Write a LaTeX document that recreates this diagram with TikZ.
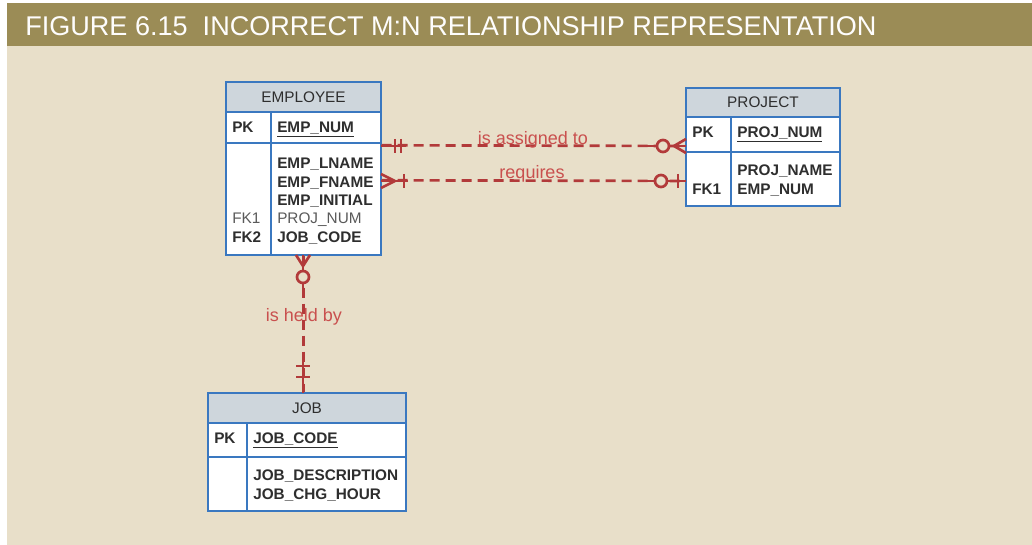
\documentclass[tikz,border=0pt]{standalone}
\usepackage{fontspec}
\setmainfont{Liberation Sans}
\usetikzlibrary{positioning}

\definecolor{titlebar}{HTML}{9B8C56}
\definecolor{paper}{HTML}{E8DFC9}
\definecolor{erblue}{HTML}{3A78C0}
\definecolor{headgray}{HTML}{CED6DC}
\definecolor{relred}{HTML}{B23A3A}
\definecolor{lblred}{HTML}{C9504E}
\definecolor{fieldtxt}{HTML}{2E2E2E}
\definecolor{fktxt}{HTML}{5A5A5A}

\tikzset{
  tablecell/.style={draw=erblue, line width=1.1pt, fill=white, inner sep=0pt},
  tablehead/.style={tablecell, fill=headgray, font=\fontsize{11.5}{13}\selectfont, text=fieldtxt},
  field/.style={anchor=mid west, inner sep=0pt, yshift=-1.5pt, font=\bfseries\fontsize{11.5}{13}\selectfont, text=fieldtxt},
  fkfield/.style={field, font=\fontsize{11.5}{13}\selectfont, text=fktxt},
  rel/.style={draw=relred, line width=2pt, dash pattern=on 7.5pt off 4.5pt},
  relend/.style={draw=relred, line width=2pt},
  rellabel/.style={inner sep=0pt, yshift=-1pt, text=lblred, font=\fontsize{13.5}{15}\selectfont}
}

\begin{document}
\begin{tikzpicture}[x=0.75pt, y=-0.75pt]
  % page and title band
  \useasboundingbox[fill=white] (0,0) rectangle (1032,545);
  \fill[paper] (7,46) rectangle (1032,545);
  \fill[titlebar] (7,3) rectangle (1032,46);
  \node[anchor=base west, inner sep=0pt, text=white!95!paper, font=\fontsize{20.3}{24}\selectfont] (title) at (25,36)
    {FIGURE 6.15\ \ INCORRECT M:N RELATIONSHIP REPRESENTATION};

  % EMPLOYEE
  \node[tablecell, minimum width=116.25pt, minimum height=84pt] (empbody) at (303.5,199) {};
  \node[tablecell, minimum width=116.25pt, minimum height=23.25pt] (emppk) at (303.5,127.5) {};
  \node[tablehead, minimum width=116.25pt, minimum height=22.5pt] (emphead) at (303.5,97) {EMPLOYEE};
  \draw[draw=erblue, line width=1.1pt] (271,112) -- (271,255);
  \node[field] (emppklbl) at (232,127) {PK};
  \node[field] (empnum) at (277,127) {\underline{EMP\_NUM}};
  \node[field] (emplname) at (277,163) {EMP\_LNAME};
  \node[field] (empfname) at (277,182) {EMP\_FNAME};
  \node[field] (empinit) at (277,200) {EMP\_INITIAL};
  \node[fkfield] (empfk1) at (232,218) {FK1};
  \node[fkfield] (empproj) at (277,218) {PROJ\_NUM};
  \node[field] (empfk2) at (232,237) {FK2};
  \node[field] (empjob) at (277,237) {JOB\_CODE};

  % PROJECT
  \node[tablecell, minimum width=115.5pt, minimum height=40.5pt] (projbody) at (763,179) {};
  \node[tablecell, minimum width=115.5pt, minimum height=26.25pt] (projpk) at (763,134.5) {};
  \node[tablehead, minimum width=115.5pt, minimum height=21.75pt] (projhead) at (763,102.5) {PROJECT};
  \draw[draw=erblue, line width=1.1pt] (731,117) -- (731,206);
  \node[field] (projpklbl) at (692,132) {PK};
  \node[field] (projnum) at (737,132) {\underline{PROJ\_NUM}};
  \node[field] (projname) at (737,170) {PROJ\_NAME};
  \node[field] (projfk1) at (692,189) {FK1};
  \node[field] (projemp) at (737,189) {EMP\_NUM};

  % JOB
  \node[tablecell, minimum width=148.5pt, minimum height=40.5pt] (jobbody) at (307,484) {};
  \node[tablecell, minimum width=148.5pt, minimum height=25.5pt] (jobpk) at (307,440) {};
  \node[tablehead, minimum width=148.5pt, minimum height=22.5pt] (jobhead) at (307,408) {JOB};
  \draw[draw=erblue, line width=1.1pt] (247,423) -- (247,511);
  \node[field] (jobpklbl) at (214,438) {PK};
  \node[field] (jobcode) at (253,438) {\underline{JOB\_CODE}};
  \node[field] (jobdesc) at (253,475) {JOB\_DESCRIPTION};
  \node[field] (jobchg) at (253,494) {JOB\_CHG\_HOUR};

  % relationships
  \draw[rel] ([yshift=-2.25pt]empbody.north east) -- ([yshift=-8.625pt]projpk.west);
  \draw[rel] ([yshift=-28.5pt]empbody.north east) -- ([yshift=-1.5pt]projbody.west);
  \draw[rel] (empbody.south) -- (empbody.south |- jobhead.north);

  % is assigned to: one -- zero or many
  \draw[relend] (381,146) -- (406,146);
  \draw[relend] (395,139) -- (395,153);
  \draw[relend] (401,139) -- (401,153);
  \draw[relend] (646,146) -- (686,146);
  \draw[relend] (674,146) -- (686,139);
  \draw[relend] (674,146) -- (686,153);
  \draw[relend, fill=paper] (663,146) circle (6);

  % requires: many -- zero or one
  \draw[relend] (381,181) -- (408,181);
  \draw[relend] (395,181) -- (381,174);
  \draw[relend] (395,181) -- (381,188);
  \draw[relend] (404,174) -- (404,188);
  \draw[relend] (646,181) -- (686,181);
  \draw[relend] (678,174) -- (678,188);
  \draw[relend, fill=paper] (661,181) circle (6);

  % is held by: zero or many -- one
  \draw[relend] (303,255) -- (303,291);
  \draw[relend] (303,266) -- (296,255);
  \draw[relend] (303,266) -- (310,255);
  \draw[relend, fill=paper] (303,277) circle (6);
  \draw[relend] (303,358) -- (303,393);
  \draw[relend] (296,366) -- (310,366);
  \draw[relend] (296,377) -- (310,377);

  \node[rellabel] (lblassign) at (533,139) {is assigned to};
  \node[rellabel] (lblrequires) at (532,173) {requires};
  \node[rellabel] (lblheld) at (304,316) {is held by};
\end{tikzpicture}
\end{document}
